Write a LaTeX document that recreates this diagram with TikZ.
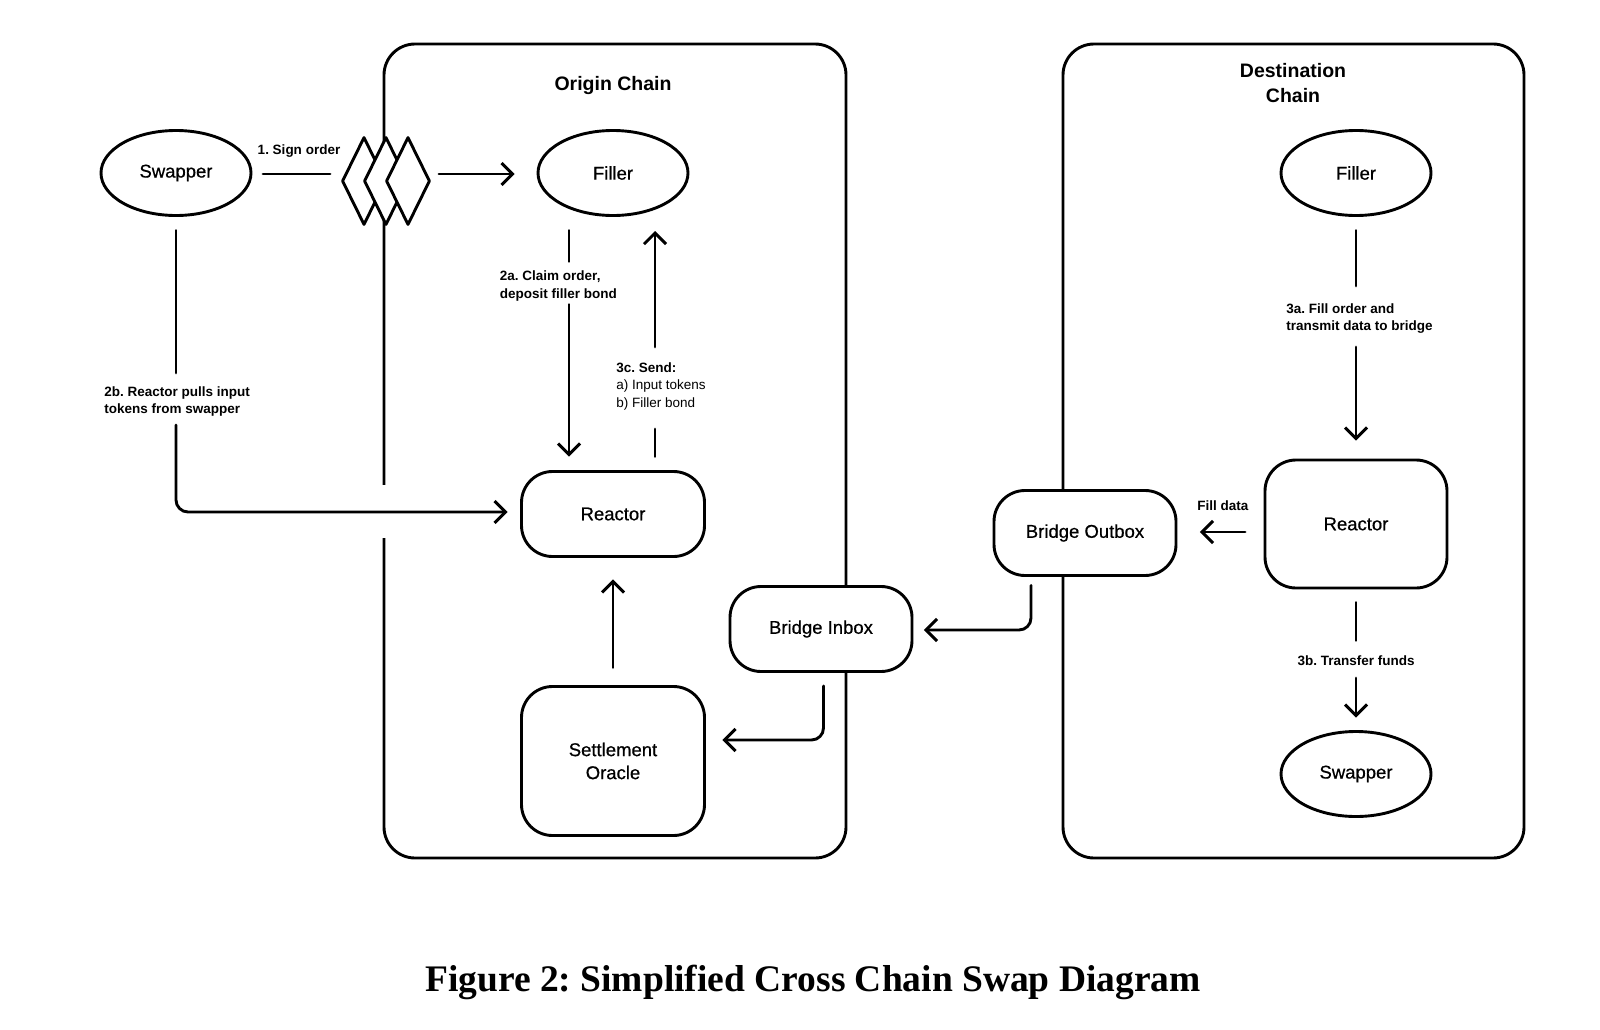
\documentclass[tikz,border=0pt]{standalone}
\usepackage{fontspec}
\setmainfont{Liberation Sans}
\newfontfamily\capserif{Liberation Serif}
\newfontfamily\medsans[FakeBold=0.6]{Liberation Sans}
\usetikzlibrary{shapes.geometric,arrows.meta,calc}
\newcommand{\myNodeFont}{\medsans\fontsize{18.5}{23}\selectfont}
\newcommand{\myLblFont}{\fontsize{13.5}{17.4}\selectfont}
\newcommand{\myTitleFont}{\fontsize{19.5}{25.5}\selectfont\bfseries}
\frenchspacing
\begin{document}
\begin{tikzpicture}[x=1pt,y=-1pt, line width=2.9pt, line cap=round, line join=round,
 ell/.style={draw, fill=white, ellipse, minimum width=150pt, minimum height=85pt, inner sep=0pt, font=\myNodeFont},
 rbox/.style={draw, fill=white, rounded corners=31pt, minimum width=183pt, minimum height=85pt, inner sep=0pt, align=center, font=\myNodeFont},
 chain/.style={draw, rounded corners=31pt},
 dia/.style={draw, fill=white, diamond, aspect=0.49, minimum width=44pt, minimum height=88pt, inner sep=0pt},
 lbl/.style={font=\myLblFont, align=left, inner sep=0pt},
 arr/.style={-{Straight Barb[length=11pt,width=22pt]}},
]
\useasboundingbox (0,0) rectangle (1600,1030);
% chains
\draw[chain] (384,44) rectangle (846,858);
\draw[chain] (1063,44) rectangle (1524,858);
\fill[white] (376,485) rectangle (392,538);
\node[font=\myTitleFont] (tO) at (613,86) {Origin Chain};
\node[font=\myTitleFont, align=center] (tD) at (1293,83) {Destination\\Chain};
% diamonds
\node[dia] (d1) at (364,181) {};
\node[dia] (d2) at (386,181) {};
\node[dia] (d3) at (408,181) {};
% nodes
\node[ell] (swL) at (176,173) {\raisebox{-2pt}{Swapper}};
\node[ell] (fO) at (613,173) {Filler};
\node[ell] (fD) at (1356,173) {Filler};
\node[ell] (swD) at (1356,774) {\raisebox{-2pt}{Swapper}};
\node[rbox] (rO) at (613,514) {Reactor};
\node[rbox, minimum height=149pt] (so) at (613,761) {Settlement\\Oracle};
\node[rbox, minimum width=182pt] (bi) at (821,629) {\raisebox{-1.5pt}{Bridge Inbox}};
\node[rbox, minimum width=182pt] (bo) at (1085,533) {\raisebox{-1.5pt}{Bridge Outbox}};
\node[rbox, minimum width=182pt, minimum height=128pt] (rD) at (1356,524) {Reactor};
% 1. sign order
\draw ([shift={(10.6,1)}]swL.east) -- ([shift={(-10.5,-7)}]d1.west);
\draw[arr] ([shift={(7.5,-7)}]d3.east) -- ([shift={(-22,1)}]fO.west);
\node[lbl] (l1) at (299,151.5) {\textbf{1. Sign order}};
% 2a
\draw ($(fO.south)+(-44,13.5)$) -- (569,261.5);
\draw[arr] (569,304.5) -- ($(rO.north)+(-44,-13.5)$);
\node[lbl, anchor=west] (l2a) at (498.5,286) {\textbf{2a. Claim order,}\\\textbf{deposit filler bond}};
% 2b
\draw ($(swL.south)+(0,13.5)$) -- (176,373);
\draw[arr, rounded corners=12pt] (176,425) -- (176,512) -- ($(rO.west)+(-12.5,-2)$);
\node[lbl, anchor=west] (l2b) at (103,401.5) {\textbf{2b. Reactor pulls input}\\\textbf{tokens from swapper}};
% 3c
\draw ($(rO.north)+(42,-13.5)$) -- (655,429);
\draw[arr] (655,347) -- (655,231);
\node[lbl, anchor=west] (l3c) at (615,386.5) {\textbf{3c. Send:}\\a) Input tokens\\b) Filler bond};
% settlement -> reactor
\draw[arr] ($(so.north)+(0,-17.5)$) -- ($(rO.south)+(0,21.5)$);
% inbox -> settlement
\draw[arr, rounded corners=12pt] ($(bi.south)+(2.5,13)$) |- ($(so.east)+(16.5,-21)$);
% outbox -> inbox
\draw[arr, rounded corners=12pt] ($(bo.south)+(-54,8.5)$) |- ($(bi.east)+(10.5,1)$);
% fill data
\draw[arr] ($(rD.west)+(-18.5,8)$) -- ($(bo.east)+(22.5,-1)$);
\node[lbl] (lfd) at (1223,506) {\textbf{Fill data}};
% 3a
\draw ($(fD.south)+(0,13.5)$) -- (1356,286);
\draw[arr] (1356,347) -- ($(rD.north)+(0,-18)$);
\node[lbl, anchor=west] (l3a) at (1285,318.5) {\textbf{3a. Fill order and}\\\textbf{transmit data to bridge}};
% 3b
\draw ($(rD.south)+(0,13)$) -- (1356,640.5);
\draw[arr] (1356,678) -- ($(swD.north)+(0,-12.5)$);
\node[lbl] (l3b) at (1356,661) {\textbf{3b. Transfer funds}};
% caption
\node[font=\capserif\bfseries\fontsize{37.5}{40}\selectfont] (cap) at (813,982) {Figure 2: Simplified Cross Chain Swap Diagram};
\end{tikzpicture}
\end{document}
